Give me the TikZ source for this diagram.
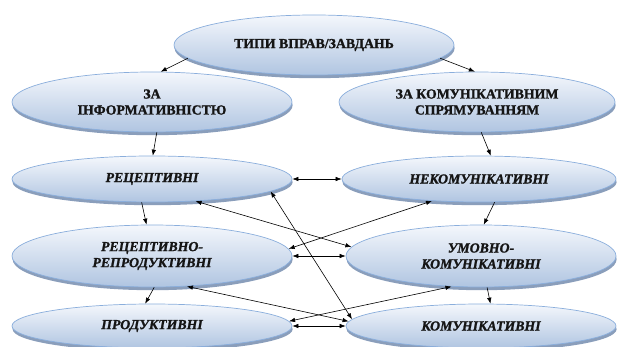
\documentclass[tikz,border=0pt]{standalone}
\usepackage{fontspec}
\setmainfont{Liberation Serif}
\newfontfamily\ovalfont{Liberation Serif}[BoldFeatures={FakeBold=1.3}, BoldItalicFeatures={FakeBold=1.3}]
\usetikzlibrary{shapes.geometric,arrows.meta,shadows}
\definecolor{edgec}{HTML}{8AAEDC}
\definecolor{topc}{HTML}{F4F7FC}
\definecolor{botc}{HTML}{B0C5E1}
\definecolor{shad}{HTML}{8A9EBB}
\definecolor{txt}{HTML}{151515}
\begin{document}
\begin{tikzpicture}[x=1pt,y=-1pt,
  oval/.style={ellipse, draw=edgec, line width=0.7pt, top color=topc, bottom color=botc,
    inner sep=0pt, align=center, font=\ovalfont\fontsize{13.8}{16}\selectfont\bfseries, text=txt,
    drop shadow={shadow xshift=0.6pt, shadow yshift=-3.2pt, fill=shad, opacity=1, draw=none}},
  ital/.style={oval, font=\ovalfont\fontsize{13.8}{16}\selectfont\bfseries\itshape},
  conn/.style={line width=0.6pt, -{Latex[length=6pt,width=4.5pt]}},
  dbl/.style={line width=0.6pt, {Latex[length=6pt,width=4.5pt]}-{Latex[length=6pt,width=4.5pt]}}
]
\useasboundingbox[fill=white] (0,0) rectangle (617,347);
\node[oval, minimum width=280pt, minimum height=60pt] (top) at (314,45) {ТИПИ ВПРАВ/ЗАВДАНЬ};
\node[oval, minimum width=280pt, minimum height=60pt] (zai) at (152,102) {ЗА\\ІНФОРМАТИВНІСТЮ};
\node[oval, minimum width=276pt, minimum height=60pt] (zak) at (477,102) {ЗА КОМУНІКАТИВНИМ\\СПРЯМУВАННЯМ};
\node[ital, minimum width=280pt, minimum height=46pt] (rec) at (152,179) {РЕЦЕПТИВНІ};
\node[ital, minimum width=274pt, minimum height=46pt] (nek) at (479,179) {НЕКОМУНІКАТИВНІ};
\node[ital, minimum width=280pt, minimum height=62pt] (rr) at (152,256) {РЕЦЕПТИВНО-\\РЕПРОДУКТИВНІ};
\node[ital, minimum width=270pt, minimum height=62pt] (um) at (481,256) {УМОВНО-\\КОМУНІКАТИВНІ};
\node[ital, minimum width=280pt, minimum height=44pt] (prod) at (152,326) {ПРОДУКТИВНІ};
\node[ital, minimum width=270pt, minimum height=44pt] (kom) at (481,326) {КОМУНІКАТИВНІ};

\draw[conn] (top.186) -- (zai.74);
\draw[conn] (top.-6) -- (zak.94);
\draw[conn] (zai.-81) -- (rec.88);
\draw[conn] (zak.-82) -- (nek.63);
\draw[conn] (rec.-114) -- (rr.100);
\draw[conn] (nek.-56) -- (um.85);
\draw[conn] (rr.-86) -- (prod.107);
\draw[conn] (um.-79) -- (kom.67);
\draw[dbl] (rec.east) -- (nek.west);
\draw[dbl] (rr.east) -- (um.west);
\draw[dbl] (prod.east) -- (kom.west);
\draw[dbl] (rec.-27) -- (um.176);
\draw[dbl] (rec.-6) -- (kom.177);
\draw[dbl] (nek.205) -- (rr.3);
\draw[dbl] (rr.-41) -- (kom.178);
\draw[dbl] (prod.2) -- (um.226);
\end{tikzpicture}
\end{document}
